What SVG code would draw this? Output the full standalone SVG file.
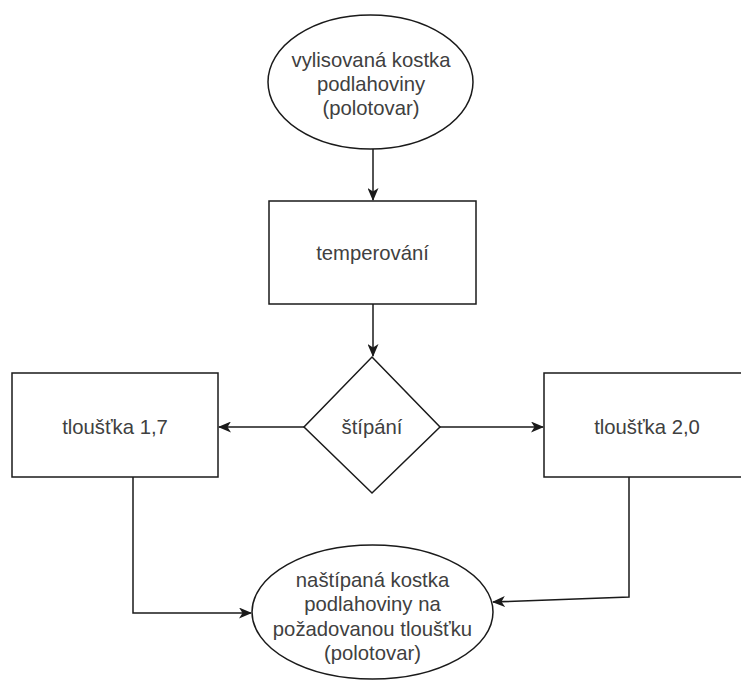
<svg xmlns="http://www.w3.org/2000/svg" width="741" height="680" viewBox="0 0 741 680">
  <style>
    .shape { fill: #ffffff; stroke: #1a1a1a; stroke-width: 1.5; }
    .label { font-family: "Liberation Sans", Arial, sans-serif; font-size: 20.3px; fill: #404040; text-anchor: middle; dominant-baseline: central; }
    .edge { fill: none; stroke: #1a1a1a; stroke-width: 1.5; }
  </style>
  <defs>
    <marker id="arrow" viewBox="0 0 13 11" refX="12" refY="5.5" markerWidth="13" markerHeight="11" markerUnits="userSpaceOnUse" orient="auto">
      <path d="M0,0 L13,5.5 L0,11 L3.5,5.5 Z" fill="#1a1a1a"/>
    </marker>
  </defs>
  <rect width="741" height="680" fill="#ffffff"/>

  <g id="connectors">
    <path class="edge" d="M373,149 L373,200" marker-end="url(#arrow)"/>
    <path class="edge" d="M373,304 L373,356" marker-end="url(#arrow)"/>
    <path class="edge" d="M304,427 L219,427" marker-end="url(#arrow)"/>
    <path class="edge" d="M440,427 L543,427" marker-end="url(#arrow)"/>
    <path class="edge" d="M133,477 L133,613 L251,613" marker-end="url(#arrow)"/>
    <path class="edge" d="M629,477 L629,597 L493,602" marker-end="url(#arrow)"/>
  </g>

  <g id="start">
    <ellipse class="shape" cx="370.5" cy="82" rx="102.5" ry="67"/>
    <text class="label" x="371" y="60">vylisovaná kostka</text>
    <text class="label" x="371" y="84">podlahoviny</text>
    <text class="label" x="371" y="108">(polotovar)</text>
  </g>

  <g id="temperovani">
    <rect class="shape" x="269" y="201" width="207" height="103"/>
    <text class="label" x="372.5" y="253">temperování</text>
  </g>

  <g id="stipani">
    <polygon class="shape" points="372,357 440,427 372,493 304,427"/>
    <text class="label" x="372" y="427">štípání</text>
  </g>

  <g id="tloustka17">
    <rect class="shape" x="12" y="373" width="206" height="104"/>
    <text class="label" x="115" y="427">tloušťka 1,7</text>
  </g>

  <g id="tloustka20">
    <rect class="shape" x="544" y="373" width="206" height="104"/>
    <text class="label" x="647" y="427">tloušťka 2,0</text>
  </g>

  <g id="vysledek">
    <ellipse class="shape" cx="372.5" cy="612" rx="120.5" ry="67"/>
    <text class="label" x="372.5" y="580">naštípaná kostka</text>
    <text class="label" x="372.5" y="604">podlahoviny na</text>
    <text class="label" x="372.5" y="629">požadovanou tloušťku</text>
    <text class="label" x="372.5" y="653">(polotovar)</text>
  </g>
</svg>
